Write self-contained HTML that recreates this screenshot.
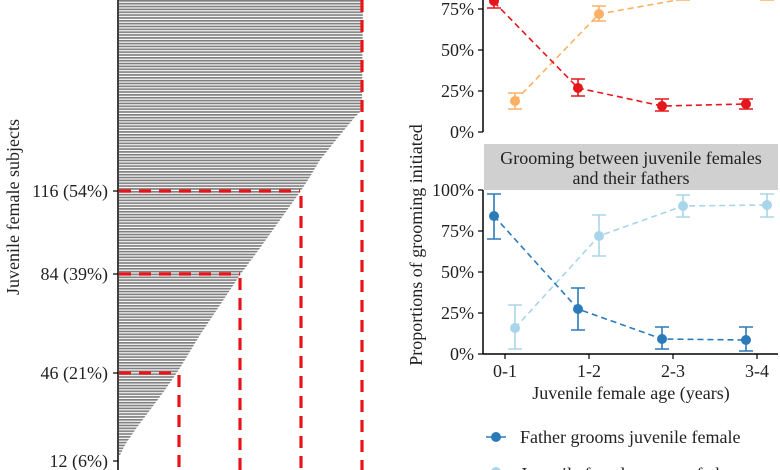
<!DOCTYPE html>
<html><head><meta charset="utf-8"><style>
html,body{margin:0;padding:0;background:#fff;}
svg{display:block;font-family:"Liberation Serif",serif;}
</style></head><body>
<svg width="780" height="470" viewBox="0 0 780 470" xmlns="http://www.w3.org/2000/svg">
<defs>
<pattern id="st" x="0" y="0" width="10" height="2.85" patternUnits="userSpaceOnUse">
<rect x="0" y="0" width="10" height="1.7" fill="#808080"/>
</pattern>
</defs>
<rect x="119" y="0" width="245" height="455" fill="url(#st)"/>
<polygon fill="#fff" points="363,0 362,100 360,112 355,117 340,135 320,160 308,180 300,192 280,220 260,248 240,275 220,305 200,335 180,368 165,390 150,410 135,430 125,445 120,455 119,460 380,470 380,0"/>
<line x1="118" y1="0" x2="118" y2="470" stroke="#000" stroke-width="1.5"/>
<g stroke="#000" stroke-width="1.2">
<line x1="113" y1="191" x2="118" y2="191"/><line x1="113" y1="274" x2="118" y2="274"/>
<line x1="113" y1="373" x2="118" y2="373"/><line x1="113" y1="461" x2="118" y2="461"/>
</g>
<g font-size="18" text-anchor="end" fill="#222">
<text x="108" y="197">116 (54%)</text><text x="108" y="280">84 (39%)</text>
<text x="108" y="379">46 (21%)</text><text x="108" y="467">12 (6%)</text>
</g>
<text transform="translate(19,207) rotate(-90)" font-size="18" text-anchor="middle" fill="#222">Juvenile female subjects</text>
<g stroke="#e8141a" stroke-width="3.2" stroke-dasharray="12,8" fill="none">
<line x1="119" y1="191" x2="300" y2="191"/><line x1="119" y1="274" x2="240" y2="274"/>
<line x1="119" y1="373" x2="178" y2="373"/>
<line x1="179" y1="375" x2="179" y2="470"/><line x1="240" y1="278" x2="240" y2="470"/>
<line x1="301" y1="196" x2="301" y2="470"/><line x1="362" y1="0" x2="362" y2="470"/>
</g>
<line x1="483" y1="0" x2="483" y2="132" stroke="#000" stroke-width="1.5"/>
<g stroke="#000" stroke-width="1.2">
<line x1="478" y1="9" x2="483" y2="9"/><line x1="478" y1="50" x2="483" y2="50"/>
<line x1="478" y1="91" x2="483" y2="91"/><line x1="478" y1="132" x2="483" y2="132"/>
</g>
<g font-size="18" text-anchor="end" fill="#222">
<text x="474" y="15">75%</text><text x="474" y="56">50%</text><text x="474" y="97">25%</text><text x="474" y="138">0%</text>
</g>
<g stroke="#fdb064" stroke-width="1.6" fill="none">
<polyline stroke-dasharray="6,4" points="515,101 599,14 683,-1 767,-1"/>
<path d="M515,109V93 M508,109H522 M508,93H522 M599,21V6 M592,21H606 M592,6H606 M676,0H690 M760,0H774"/>
</g>
<g fill="#fdb064"><circle cx="515" cy="101" r="5"/><circle cx="599" cy="14" r="5"/></g>
<g stroke="#e3171c" stroke-width="1.6" fill="none">
<polyline stroke-dasharray="6,4" points="494,2 578,88 662,106 746,104"/>
<path d="M494,8V0 M487,8H501 M578,96V79 M571,96H585 M571,79H585 M662,111V99 M655,111H669 M655,99H669 M746,109V99 M739,109H753 M739,99H753"/>
</g>
<g fill="#e3171c"><circle cx="494" cy="1" r="5"/><circle cx="578" cy="88" r="5"/><circle cx="662" cy="106" r="5"/><circle cx="746" cy="104" r="5"/></g>
<text transform="translate(422,245) rotate(-90)" font-size="18" text-anchor="middle" fill="#222">Proportions of grooming initiated</text>
<rect x="484" y="144" width="294" height="46" fill="#d0d0d0"/>
<text x="631" y="164" font-size="18" text-anchor="middle" fill="#222">Grooming between juvenile females</text>
<text x="631" y="184" font-size="18" text-anchor="middle" fill="#222">and their fathers</text>
<line x1="483" y1="190" x2="483" y2="354" stroke="#000" stroke-width="1.5"/>
<line x1="483" y1="354" x2="778" y2="354" stroke="#000" stroke-width="1.5"/>
<g stroke="#000" stroke-width="1.2">
<line x1="478" y1="190" x2="483" y2="190"/><line x1="478" y1="231" x2="483" y2="231"/>
<line x1="478" y1="272" x2="483" y2="272"/><line x1="478" y1="313" x2="483" y2="313"/><line x1="478" y1="354" x2="483" y2="354"/>
<line x1="505" y1="354" x2="505" y2="359"/><line x1="589" y1="354" x2="589" y2="359"/>
<line x1="673" y1="354" x2="673" y2="359"/><line x1="757" y1="354" x2="757" y2="359"/>
</g>
<g font-size="18" text-anchor="end" fill="#222">
<text x="474" y="196">100%</text><text x="474" y="237">75%</text><text x="474" y="278">50%</text><text x="474" y="319">25%</text><text x="474" y="360">0%</text>
</g>
<g font-size="18" text-anchor="middle" fill="#222">
<text x="505" y="377">0-1</text><text x="589" y="377">1-2</text><text x="673" y="377">2-3</text><text x="757" y="377">3-4</text>
</g>
<text x="631" y="399" font-size="18" text-anchor="middle" fill="#222">Juvenile female age (years)</text>
<g stroke="#a8d5ea" stroke-width="1.6" fill="none">
<polyline stroke-dasharray="6,4" points="515,328 599,236 683,206 767,205"/>
<path d="M515,349V305 M508,349H522 M508,305H522 M599,256V215 M592,256H606 M592,215H606 M683,217V195 M676,217H690 M676,195H690 M767,217V194 M760,217H774 M760,194H774"/>
</g>
<g fill="#a8d5ea"><circle cx="515" cy="328" r="5"/><circle cx="599" cy="236" r="5"/><circle cx="683" cy="206" r="5"/><circle cx="767" cy="205" r="5"/></g>
<g stroke="#2b7bba" stroke-width="1.6" fill="none">
<polyline stroke-dasharray="6,4" points="494,216 578,309 662,339 746,340"/>
<path d="M494,239V194 M487,239H501 M487,194H501 M578,330V288 M571,330H585 M571,288H585 M662,349V327 M655,349H669 M655,327H669 M746,351V327 M739,351H753 M739,327H753"/>
</g>
<g fill="#2b7bba"><circle cx="494" cy="216" r="5"/><circle cx="578" cy="309" r="5"/><circle cx="662" cy="339" r="5"/><circle cx="746" cy="340" r="5"/></g>
<line x1="486" y1="437" x2="506" y2="437" stroke="#2b7bba" stroke-width="1.6"/>
<circle cx="496" cy="437" r="5" fill="#2b7bba"/>
<text x="520" y="443" font-size="18" fill="#222">Father grooms juvenile female</text>
<line x1="486" y1="472" x2="506" y2="472" stroke="#a8d5ea" stroke-width="1.6"/>
<circle cx="496" cy="472" r="5" fill="#a8d5ea"/>
<text x="520" y="480" font-size="18" fill="#222">Juvenile female grooms father</text>
</svg>
</body></html>
